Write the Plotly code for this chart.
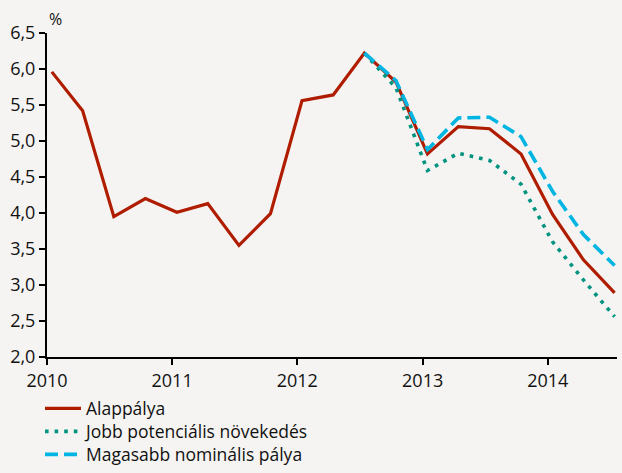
import plotly.graph_objects as go

dates = ["2010-01-15", "2010-04-15", "2010-07-15", "2010-10-15",
         "2011-01-15", "2011-04-15", "2011-07-15", "2011-10-15",
         "2012-01-15", "2012-04-15", "2012-07-15", "2012-10-15",
         "2013-01-15", "2013-04-15", "2013-07-15", "2013-10-15",
         "2014-01-15", "2014-04-15", "2014-07-15"]

alap = [5.96, 5.42, 3.95, 4.20, 4.01, 4.13, 3.55, 3.99,
        5.56, 5.64, 6.22, 5.82, 4.82, 5.20, 5.17, 4.82,
        3.98, 3.35, 2.89]
jobb = [None] * 10 + [6.22, 5.74, 4.59, 4.83, 4.73, 4.40, 3.60, 3.07, 2.56]
magas = [None] * 10 + [6.22, 5.84, 4.88, 5.32, 5.33, 5.06, 4.30, 3.70, 3.27]

names = ["Alappálya", "Jobb potenciális növekedés", "Magasabb nominális pálya"]

bg = "#f5f4f2"
font = "Open Sans"
W, H = 622, 473

fig = go.Figure()
fig.add_trace(go.Scatter(x=dates, y=alap, name=names[0], mode="lines",
                         legend="legend",
                         line=dict(color="#b01c00", width=3.2)))
fig.add_trace(go.Scatter(x=dates, y=jobb, name=names[1], mode="lines",
                         legend="legend2",
                         line=dict(color="#009380", width=3.6, dash="3.6px,6px")))
fig.add_trace(go.Scatter(x=dates, y=magas, name=names[2], mode="lines",
                         legend="legend3",
                         line=dict(color="#00b5e2", width=3.6, dash="13px,6px")))


def leg(ypx):
    return dict(xref="container", yref="container",
                x=40 / W, y=1 - ypx / H, xanchor="left", yanchor="middle",
                bgcolor="rgba(0,0,0,0)", font=dict(size=17.5, family=font),
                itemwidth=36)


fig.update_layout(
    width=W, height=H,
    paper_bgcolor=bg, plot_bgcolor=bg,
    margin=dict(l=47, r=5, t=33, b=116, autoexpand=False),
    separators=", ",
    font=dict(family=font, size=18, color="#111111"),
    showlegend=True,
    legend=leg(408.5), legend2=leg(431.5), legend3=leg(454.5),
    xaxis=dict(type="date", range=["2010-01-01", "2014-07-22"],
               tick0="2010-01-01", dtick="M12", tickformat="%Y",
               showgrid=False, zeroline=False,
               showline=True, linecolor="black", linewidth=2,
               ticks="outside", ticklen=6, tickwidth=2, tickcolor="black",
               tickfont=dict(size=18)),
    yaxis=dict(range=[2, 6.5], dtick=0.5, tick0=2, tickformat=".1f",
               showgrid=False, zeroline=False,
               showline=True, linecolor="black", linewidth=2,
               ticks="outside", ticklen=6, tickwidth=2, tickcolor="black",
               tickfont=dict(size=18)),
    annotations=[dict(text="%", xref="paper", yref="paper", x=0, y=1,
                      xanchor="left", yanchor="bottom", showarrow=False,
                      xshift=0, yshift=1, font=dict(size=16))],
)

fig.write_html(
    "out.html",
    config={"displayModeBar": False},
    post_script="document.body.style.margin='0';"
                "document.body.style.background='#f5f4f2';",
)
